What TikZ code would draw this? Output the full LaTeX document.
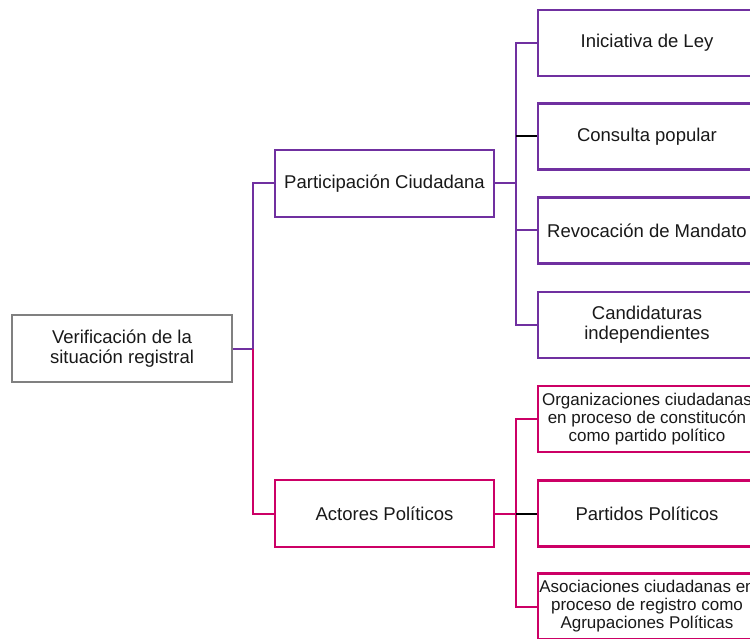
\documentclass[tikz,border=0pt]{standalone}
\usepackage{fontspec}
\setmainfont{Liberation Sans}
\definecolor{purp}{HTML}{7030A0}
\definecolor{mag}{HTML}{CC0066}
\definecolor{gry}{HTML}{808080}
\begin{document}
\begin{tikzpicture}[x=1pt,y=-1pt,
  box/.style={draw, line width=2.4pt, fill=white, inner sep=0pt, align=center,
    font=\fontsize{18.5}{20}\selectfont, text=black!90},
  kid/.style={box, minimum width=218pt, minimum height=66pt},
  smallkid/.style={kid, font=\fontsize{17}{18}\selectfont},
  conn/.style={line width=2pt}]
\useasboundingbox (0,0) rectangle (750,639);
\node[box, draw=gry, minimum width=220pt, minimum height=67pt] (root) at (122,348.5) {Verificación de la\\situación registral};
\node[box, draw=purp, minimum width=219pt, minimum height=67pt] (part) at (384.5,183.5) {Participación Ciudadana};
\node[box, draw=mag, minimum width=219pt, minimum height=67pt] (act) at (384.5,513.5) {Actores Políticos};
\node[kid, draw=purp] (ini) at (647,43) {Iniciativa de Ley};
\node[kid, draw=purp] (cons) at (647,136.5) {Consulta popular};
\node[kid, draw=purp] (rev) at (647,230.5) {Revocación de Mandato};
\node[kid, draw=purp] (cand) at (647,325) {Candidaturas\\independientes};
\node[smallkid, draw=mag] (org) at (647,419) {Organizaciones ciudadanas\\en proceso de constitucón\\como partido político};
\node[kid, draw=mag] (par) at (647,513.5) {Partidos Políticos};
\node[smallkid, draw=mag] (aso) at (647,606.5) {Asociaciones ciudadanas en\\proceso de registro como\\Agrupaciones Políticas};
\coordinate (j0) at (253,348.5);
\coordinate (j1) at (516,183.5);
\coordinate (j2) at (516,513.5);
\draw[conn, purp] (root.east) -- (j0) |- (part.west);
\draw[conn, mag] (j0) |- (act.west);
\draw[conn, purp] (part.east) -- (j1);
\draw[conn, purp] (j1) |- (ini.west);
\draw[conn, purp] (j1) |- (rev.west);
\draw[conn, purp] (j1) |- (cand.west);
\draw[conn, black] (cons.west -| j1) -- (cons.west);
\draw[conn, mag] (act.east) -- (j2);
\draw[conn, mag] (j2) |- (org.west);
\draw[conn, mag] (j2) |- (aso.west);
\draw[conn, black] (j2) -- (par.west);
\end{tikzpicture}
\end{document}
